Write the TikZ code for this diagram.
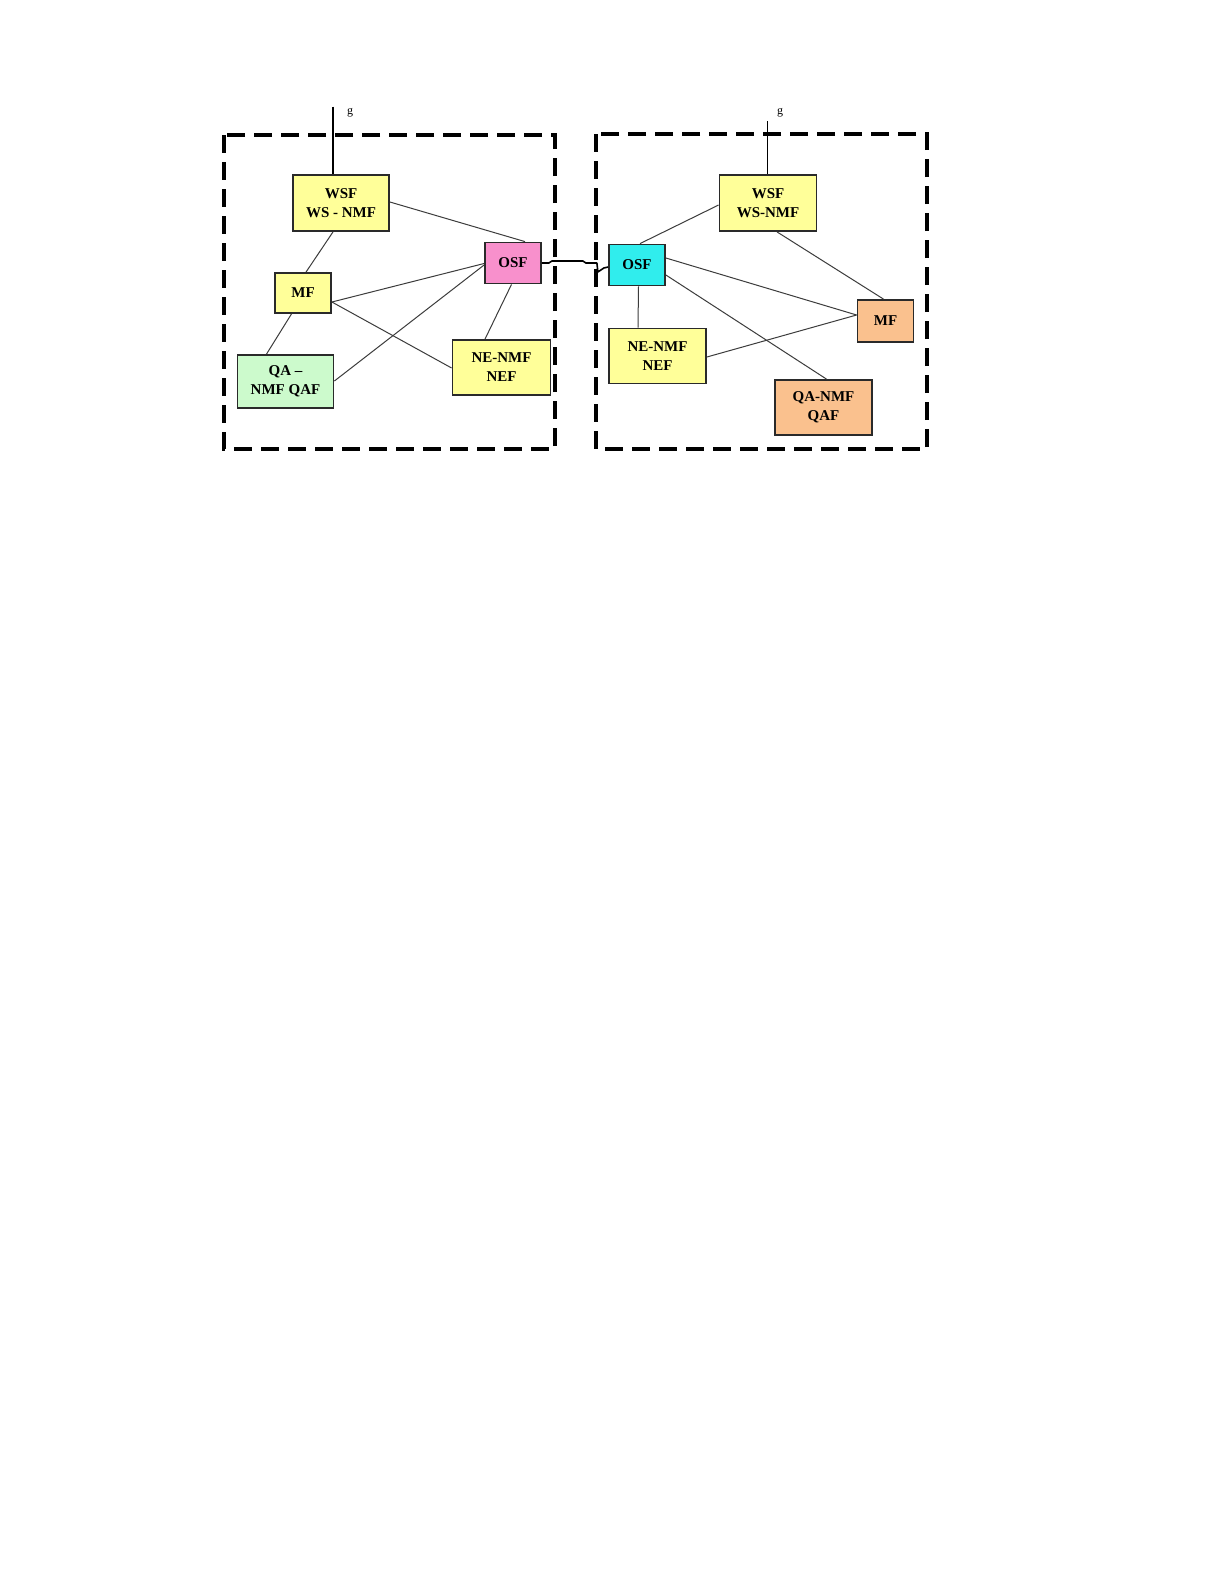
\documentclass[tikz,border=0pt]{standalone}
\usepackage{fontspec}
\setmainfont{Liberation Serif}
\usepackage{xcolor}
\definecolor{TMYellow}{HTML}{FFFF99}
\definecolor{TMPink}{HTML}{F890CC}
\definecolor{TMCyan}{HTML}{30EDED}
\definecolor{TMGreen}{HTML}{CCFACC}
\definecolor{TMOrange}{HTML}{FAC18E}
\definecolor{TMEdge}{HTML}{2A2A2A}
\definecolor{TMLine}{HTML}{3C3C3C}
\tikzset{
  fbox/.style={draw=TMEdge,line width=1.8pt,align=center,inner sep=0pt,
    font=\fontsize{15}{19}\selectfont\bfseries},
  link/.style={draw=TMLine,line width=1pt},
  mdomain/.style={draw=black,line width=3.2pt,dash pattern=on 18pt off 9pt},
  gline/.style={draw=black,line width=1.8pt}
}
\begin{document}
\begin{tikzpicture}[x=1pt,y=-1pt]
\path[use as bounding box,fill=white] (0,0) rectangle (1225,1585);
% management domains
\draw[mdomain] (224,135) rectangle (555,449);
\draw[mdomain] (596,134) rectangle (927,449);
% left domain
\node[fbox,fill=TMYellow,minimum width=96,minimum height=56] (wsfL) at (341,203) {WSF\\WS - NMF};
\node[fbox,fill=TMPink,minimum width=56,minimum height=41] (osfL) at (513,263) {OSF};
\node[fbox,fill=TMYellow,minimum width=56,minimum height=40] (mfL) at (303,293) {MF};
\node[fbox,fill=TMGreen,minimum width=96,minimum height=53] (qaL) at (285.5,381.5) {QA --\\NMF QAF};
\node[fbox,fill=TMYellow,minimum width=98,minimum height=55] (neL) at (501.5,367.5) {NE-NMF\\NEF};
% right domain
\node[fbox,fill=TMYellow,minimum width=97,minimum height=56] (wsfR) at (768,203) {WSF\\WS-NMF};
\node[fbox,fill=TMCyan,minimum width=56,minimum height=41] (osfR) at (637,265) {OSF};
\node[fbox,fill=TMOrange,minimum width=56,minimum height=42] (mfR) at (885.5,321) {MF};
\node[fbox,fill=TMYellow,minimum width=97,minimum height=55] (neR) at (657.5,356) {NE-NMF\\NEF};
\node[fbox,fill=TMOrange,minimum width=97,minimum height=55] (qaR) at (823.5,407.5) {QA-NMF\\QAF};
% g reference points
\coordinate (gL) at (333.3,106.5);
\coordinate (gR) at (767.5,121);
\draw[gline] (gL) -- ([xshift=-7.7pt]wsfL.north);
\draw[gline] (gR) -- ([xshift=-0.5pt]wsfR.north);
\node[font=\fontsize{12}{12}\selectfont] (gLabL) at (350,113) {g};
\node[font=\fontsize{12}{12}\selectfont] (gLabR) at (780,113) {g};
% left links
\draw[link] ([yshift=1pt]wsfL.east) -- ([xshift=12pt]osfL.north);
\draw[link] ([xshift=-8pt]wsfL.south) -- ([xshift=3pt]mfL.north);
\draw[link] ([yshift=-9pt]mfL.east) -- ([yshift=-0.5pt]osfL.west);
\draw[link] ([yshift=-9pt]mfL.east) -- ([yshift=-0.5pt]neL.west);
\draw[link] ([xshift=-11.5pt]mfL.south) -- ([xshift=-19pt]qaL.north);
\draw[link] ([yshift=0.5pt]qaL.east) -- ([yshift=-2pt]osfL.west);
\draw[link] ([xshift=-1.5pt]osfL.south) -- ([xshift=-16.5pt]neL.north);
% right links
\draw[link] ([yshift=-2pt]wsfR.west) -- ([xshift=3pt]osfR.north);
\draw[link] ([xshift=9pt]wsfR.south) -- ([xshift=-2pt]mfR.north);
\draw[link] ([yshift=7pt]osfR.east) -- ([yshift=6pt]mfR.west);
\draw[link] ([yshift=-10pt]osfR.east) -- ([xshift=3pt]qaR.north);
\draw[link] ([xshift=1.5pt]osfR.south) -- ([xshift=-19.5pt]neR.north);
\draw[link] ([yshift=-1pt]neR.east) -- ([yshift=6pt]mfR.west);
% link between the two OSFs
\draw[black,line width=1.6pt,line join=round] (osfL.east) -- ++(7,0) -- ++(3,-2) -- ++(31,0)
  -- ++(3,2) -- ++(11,0) -- ++(1,9) -- ++(6,-4) -- ([yshift=-2pt]osfR.west);
\end{tikzpicture}
\end{document}
